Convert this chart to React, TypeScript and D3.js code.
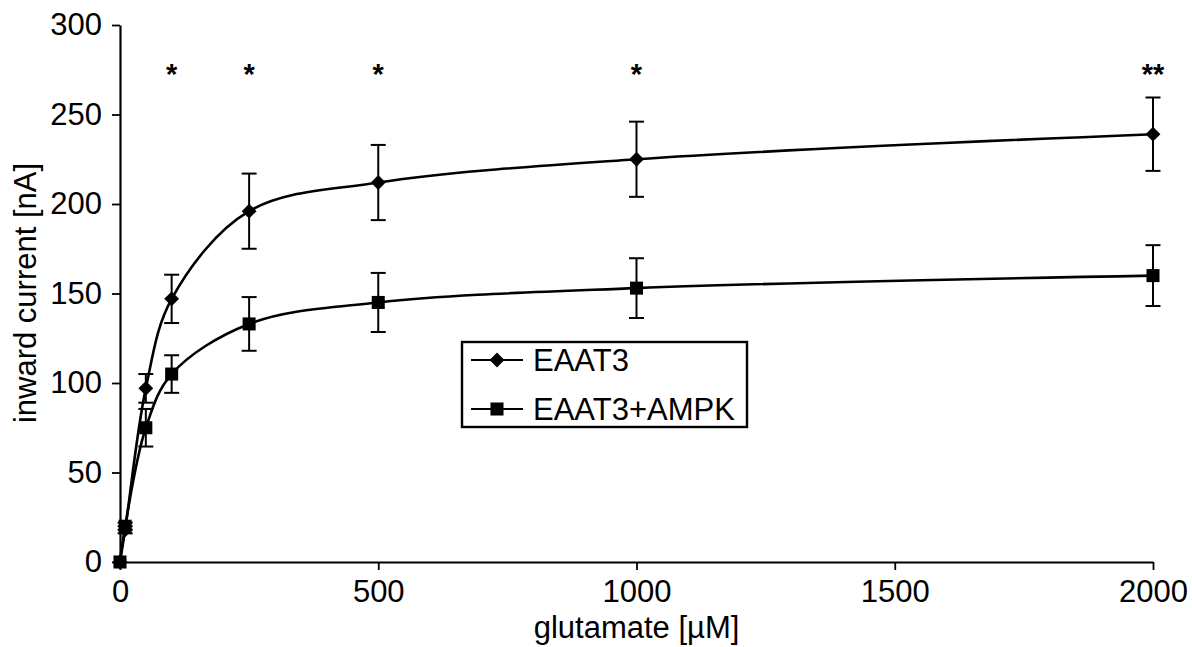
import React, { useEffect, useRef } from "react";
import * as d3 from "d3";

// glutamate concentrations (µM)
const conc = [0, 10, 50, 100, 250, 500, 1000, 2000];

// mean inward current (nA) and error (nA)
const eaat3 = [0, 18, 97, 147, 196, 212, 225, 239];
const eaat3Err = [0, 2, 8, 13.5, 21, 21, 21, 20.5];
const eaat3Ampk = [0, 20, 75, 105, 133, 145, 153, 160];
const eaat3AmpkErr = [0, 2, 10.5, 10.5, 15, 16.5, 16.7, 17];

// significance marks
const starConc = [100, 250, 500, 1000, 2000];
const starText = ["*", "*", "*", "*", "**"];

const xTicks = [0, 500, 1000, 1500, 2000];
const yTicks = [0, 50, 100, 150, 200, 250, 300];

const seriesNames = ["EAAT3", "EAAT3+AMPK"];

export default function App() {
  const ref = useRef<SVGSVGElement>(null);

  useEffect(() => {
    const svg = d3.select(ref.current);
    svg.selectAll("*").remove();

    const font = "'Liberation Sans', Arial, sans-serif";
    const x = d3.scaleLinear().domain([0, 2000]).range([120, 1153]);
    const y = d3.scaleLinear().domain([0, 300]).range([562, 25]);

    // Y axis
    const ya = svg.append("g").attr("transform", "translate(120,0)")
      .call(d3.axisLeft(y).tickValues(yTicks).tickFormat(d3.format("d"))
        .tickSize(8).tickSizeOuter(0).tickPadding(10));
    // X axis
    const xa = svg.append("g").attr("transform", "translate(0,562)")
      .call(d3.axisBottom(x).tickValues(xTicks).tickFormat(d3.format("d"))
        .tickSize(8).tickSizeOuter(0).tickPadding(10));
    [ya, xa].forEach((a) => {
      a.select(".domain").attr("stroke", "#000").attr("stroke-width", 2.2);
      a.selectAll(".tick line").attr("stroke", "#000").attr("stroke-width", 1.8);
      a.selectAll(".tick text").attr("font-family", font).attr("font-size", 31).attr("fill", "#000");
    });

    // axis titles
    svg.append("text").text("glutamate [µM]")
      .attr("x", x(1000)).attr("y", 638).attr("text-anchor", "middle")
      .attr("font-family", font).attr("font-size", 31);
    svg.append("text").text("inward current [nA]")
      .attr("transform", "translate(36,293) rotate(-90)").attr("text-anchor", "middle")
      .attr("font-family", font).attr("font-size", 31);

    const line = d3.line<number>()
      .x((_, i) => x(conc[i]))
      .y((d) => y(d))
      .curve(d3.curveCatmullRom.alpha(0.5));

    const diamond = d3.symbol().type(d3.symbolSquare).size(110)();
    const square = d3.symbol().type(d3.symbolSquare).size(170)();

    const series = [
      { vals: eaat3, err: eaat3Err, shape: diamond, rot: 45 },
      { vals: eaat3Ampk, err: eaat3AmpkErr, shape: square, rot: 0 },
    ];

    series.forEach((s) => {
      const g = svg.append("g");
      g.append("path").attr("d", line(s.vals)).attr("fill", "none")
        .attr("stroke", "#000").attr("stroke-width", 2.6);

      // error bars
      s.vals.forEach((v, i) => {
        if (s.err[i] <= 0) return;
        const cx = x(conc[i]);
        const y1 = y(v + s.err[i]), y2 = y(v - s.err[i]);
        g.append("line").attr("x1", cx).attr("x2", cx).attr("y1", y1).attr("y2", y2)
          .attr("stroke", "#000").attr("stroke-width", 2);
        [y1, y2].forEach((yy) => {
          g.append("line").attr("x1", cx - 7.5).attr("x2", cx + 7.5).attr("y1", yy).attr("y2", yy)
            .attr("stroke", "#000").attr("stroke-width", 2);
        });
      });

      g.selectAll(".m").data(s.vals).join("path")
        .attr("d", s.shape)
        .attr("transform", (d, i) => `translate(${x(conc[i])},${y(d)}) rotate(${s.rot})`)
        .attr("fill", "#000");
    });

    // stars
    svg.selectAll(".star").data(starConc).join("text")
      .text((_, i) => starText[i])
      .attr("x", (d) => x(d)).attr("y", 84).attr("text-anchor", "middle")
      .attr("font-family", font).attr("font-size", 29).attr("font-weight", "bold");

    // legend
    const lg = svg.append("g");
    lg.append("rect").attr("x", 462).attr("y", 342).attr("width", 285).attr("height", 85)
      .attr("fill", "#fff").attr("stroke", "#000").attr("stroke-width", 2.4);
    series.forEach((s, i) => {
      const ly = 360 + i * 49;
      lg.append("line").attr("x1", 471).attr("x2", 523).attr("y1", ly).attr("y2", ly)
        .attr("stroke", "#000").attr("stroke-width", 2.2);
      lg.append("path").attr("d", s.shape)
        .attr("transform", `translate(497,${ly}) rotate(${s.rot})`).attr("fill", "#000");
      lg.append("text").text(seriesNames[i]).attr("x", 533).attr("y", ly + 11)
        .attr("font-family", font).attr("font-size", 31);
    });
  }, []);

  return (
    <svg ref={ref} width={1192} height={647}
      style={{ position: "absolute", left: 0, top: 0, background: "#fff" }} />
  );
}
